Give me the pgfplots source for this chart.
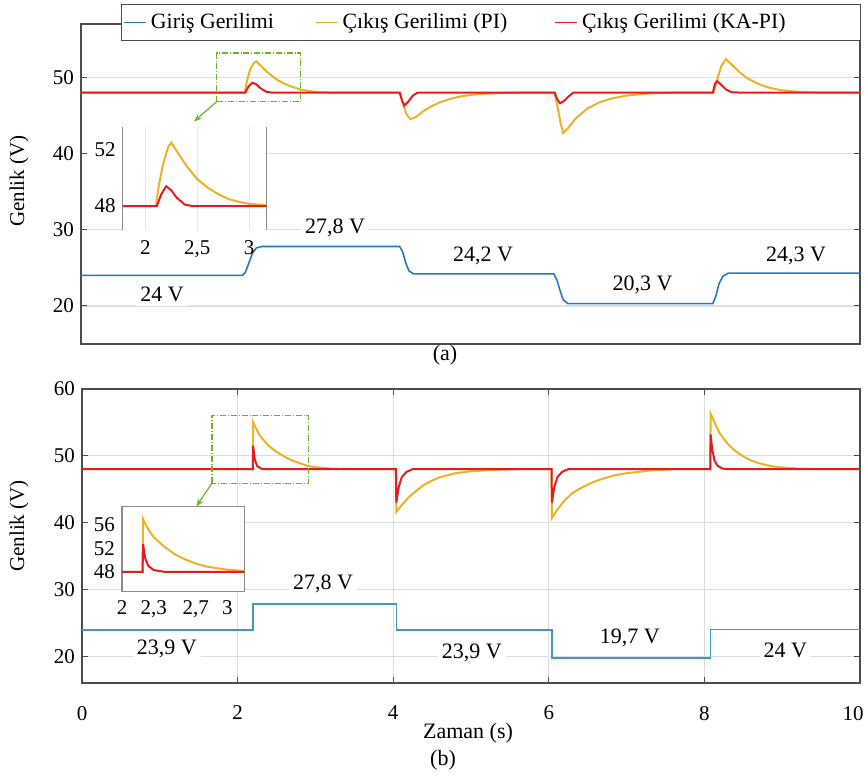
\documentclass[border=0pt]{standalone}
\usepackage{pgfplots}
\pgfplotsset{compat=1.18}
\usepackage{fontspec}
\setmainfont{Liberation Serif}
\usetikzlibrary{arrows.meta}
\definecolor{cblue}{RGB}{38,122,186}
\definecolor{cblueb}{RGB}{62,152,202}
\definecolor{cyel}{RGB}{236,178,40}
\definecolor{cred}{RGB}{228,28,30}
\definecolor{cgreen}{RGB}{110,180,40}
\newcommand{\fs}{\fontsize{10.5}{12.6}\selectfont}
\newcommand{\fl}{\fontsize{11}{13}\selectfont}
\newcommand{\fleg}{\fontsize{10.9}{13}\selectfont}
\pgfplotsset{
  base/.style={
    scale only axis,
    axis line style={draw=black!70, line width=0.6pt},
    tick style={draw=black!70, line width=0.5pt},
    major tick length=3pt,
    tick align=inside,
    grid style={draw=black!13, line width=0.6pt},
    tick label style={font=\fs},
    label style={font=\fs},
    /pgf/number format/assume math mode=true,
  },
  inset/.style={
    scale only axis,
    axis background/.style={fill=white},
    axis line style={draw=black!45, line width=0.6pt},
    major tick length=0pt,
    xmajorgrids, grid style={draw=black!10, line width=0.5pt},
    tick label style={font=\fs},
    /pgf/number format/assume math mode=true,
  },
}
\begin{document}
\begin{tikzpicture}
\useasboundingbox (0,0) rectangle (433.5pt,-388pt);
% ---------------- panel (a) ----------------
\begin{axis}[base,
  at={(40.5pt,-172pt)}, anchor=south west,
  width=389.5pt, height=160pt,
  xmin=0, xmax=10, ymin=15, ymax=57,
  xtick=\empty, ytick={20,30,40,50},
  ymajorgrids,
  ylabel={Genlik (V)},
  ylabel style={at={(axis description cs:-0.0796,0.509)}, anchor=center},
  legend columns=3,
  legend cell align=left,
  legend image code/.code={\draw[#1, line width=0.8pt] (0pt,0pt) -- (11pt,0pt);},
  legend style={at={(axis description cs:0.0513,1.062)}, anchor=north west,
    draw=black!70, fill=white, font=\fleg, inner xsep=1pt, inner ysep=2.5pt,
    /tikz/every even column/.append style={column sep=0pt}},
]
\addplot[cblue, line width=0.8pt] coordinates {
 (0,24) (2.07,24) (2.11,24.4) (2.15,25.5) (2.2,26.9) (2.25,27.6) (2.32,27.8)
 (4.09,27.8) (4.13,27.1) (4.17,25.6) (4.21,24.6) (4.27,24.2)
 (6.07,24.2) (6.11,23.4) (6.15,22.0) (6.19,20.8) (6.25,20.3)
 (8.11,20.3) (8.15,21.3) (8.19,22.9) (8.24,23.9) (8.31,24.3) (10,24.3)};
\addlegendentry{\makebox[80pt][l]{Giriş Gerilimi}}
\addplot[cyel, line width=1pt] coordinates {
 (0,48) (2.1,48) (2.13,49.5) (2.17,51) (2.22,51.9) (2.25,52.1) (2.3,51.6)
 (2.4,50.6) (2.5,49.8) (2.6,49.2) (2.7,48.8) (2.8,48.45) (2.9,48.25) (3.0,48.1) (3.2,48)
 (4.1,48) (4.13,46.6) (4.18,45.1) (4.23,44.5) (4.3,44.8) (4.4,45.6) (4.5,46.2)
 (4.6,46.7) (4.75,47.2) (4.9,47.55) (5.1,47.8) (5.4,47.95) (5.7,48)
 (6.08,48) (6.12,46) (6.16,43.8) (6.19,42.7) (6.25,43.3) (6.35,44.6) (6.5,45.9)
 (6.65,46.7) (6.8,47.2) (7.0,47.6) (7.3,47.9) (7.6,48)
 (8.12,48) (8.16,49.5) (8.22,51.5) (8.28,52.4) (8.35,51.7) (8.45,50.7) (8.55,49.9)
 (8.7,49.1) (8.85,48.6) (9.0,48.3) (9.2,48.1) (9.5,48) (10,48)};
\addlegendentry{\makebox[104pt][l]{Çıkış Gerilimi (PI)}}
\addplot[cred, line width=1pt] coordinates {
 (0,48) (2.11,48) (2.15,48.8) (2.2,49.3) (2.25,49.1) (2.3,48.6) (2.38,48.1) (2.45,48)
 (4.09,48) (4.12,47) (4.15,46.3) (4.2,46.8) (4.26,47.6) (4.32,48)
 (6.08,48) (6.11,47.2) (6.15,46.6) (6.2,46.9) (6.26,47.5) (6.32,48)
 (8.11,48) (8.14,49.2) (8.17,49.5) (8.22,49.0) (8.28,48.4) (8.35,48.05) (8.45,48) (10,48)};
\addlegendentry{\makebox[136pt][l]{Çıkış Gerilimi (KA-PI)}}
\fill[white] (axis cs:0.09,30.2) rectangle (axis cs:0.54,43.5);
\draw[cgreen, densely dashdotted, line width=0.6pt] (axis cs:1.74,46.8) rectangle (axis cs:2.82,53.2);
\draw[cgreen, line width=0.6pt, -{Stealth[length=4pt]}] (axis cs:1.74,46.8) -- (axis cs:1.45,44.2);
\node[fill=white, inner sep=2pt, font=\fl] at (axis cs:3.26,30.3) {27,8 V};
\node[fill=white, inner sep=2pt, font=\fl] at (axis cs:1.04,21.5) {24 V};
\node[fill=white, inner sep=2pt, font=\fl] at (axis cs:5.16,26.5) {24,2 V};
\node[fill=white, inner sep=2pt, font=\fl] at (axis cs:7.21,22.8) {20,3 V};
\node[fill=white, inner sep=2pt, font=\fl] at (axis cs:9.18,26.5) {24,3 V};
\end{axis}
% inset (a)
\begin{axis}[inset,
  at={(61.35pt,-115pt)}, anchor=south west,
  width=72pt, height=51.5pt,
  xmin=1.78, xmax=3.17, ymin=46.3, ymax=53.6,
  xtick={2,2.5,3}, xticklabels={2,{2,5},3},
  ytick={48,52},
  separate axis lines,
  x axis line style={draw=none},
  xticklabel style={yshift=-2pt},
]
\addplot[cyel, line width=1pt] coordinates {
 (1.7,48) (2.1,48) (2.13,49.5) (2.17,51) (2.22,52.2) (2.25,52.5) (2.3,51.9)
 (2.4,50.8) (2.5,49.9) (2.6,49.3) (2.7,48.85) (2.8,48.5) (2.9,48.3) (3.0,48.15) (3.2,48.05)};
\addplot[cred, line width=1pt] coordinates {
 (1.7,48) (2.11,48) (2.15,48.8) (2.2,49.4) (2.25,49.1) (2.3,48.6) (2.38,48.1) (2.45,48) (3.2,48)};
\end{axis}
% ---------------- panel (b) ----------------
\begin{axis}[base,
  at={(41pt,-341.5pt)}, anchor=south west,
  width=389pt, height=147pt,
  xmin=0, xmax=10, ymin=16, ymax=60,
  xtick={0,2,...,10}, xticklabels={0,2,4,6,8,{\hspace*{-7pt}10}},
  ytick={20,30,40,50,60},
  xmajorgrids, ymajorgrids,
  xticklabel style={yshift=-8pt},
  ylabel={Genlik (V)},
  ylabel style={at={(axis description cs:-0.081,0.534)}, anchor=center},
]
\addplot[cblueb, line width=0.8pt] coordinates {
 (0,23.9) (2.2,23.9) (2.2,27.8) (4.04,27.8) (4.04,23.9) (6.04,23.9) (6.04,19.7)
 (8.08,19.7) (8.08,24) (10,24)};
\addplot[cyel, line width=1pt] coordinates {
 (0,48) (2.195,48) (2.2,55) (2.25,53.8) (2.3,52.8) (2.4,51.5) (2.5,50.6) (2.6,49.9)
 (2.7,49.3) (2.8,48.9) (2.9,48.5) (3.0,48.3) (3.2,48.1) (3.5,48)
 (4.035,48) (4.04,41.6) (4.1,42.5) (4.2,43.8) (4.3,44.8) (4.4,45.7) (4.5,46.3)
 (4.6,46.8) (4.7,47.1) (4.8,47.4) (5.0,47.7) (5.3,47.9) (5.6,48)
 (6.035,48) (6.04,40.7) (6.1,41.8) (6.2,43.3) (6.3,44.4) (6.4,45.1) (6.5,45.7)
 (6.6,46.2) (6.7,46.6) (6.85,47.1) (7.0,47.4) (7.3,47.8) (7.6,48)
 (8.075,48) (8.08,56.3) (8.15,54.5) (8.2,53.3) (8.3,51.8) (8.4,50.7) (8.5,49.9)
 (8.6,49.3) (8.7,48.9) (8.8,48.6) (8.95,48.3) (9.2,48.1) (9.5,48) (10,48)};
\addplot[cred, line width=1pt] coordinates {
 (0,48) (2.195,48) (2.2,51.5) (2.22,49.5) (2.25,48.5) (2.3,48.1) (2.35,48)
 (4.035,48) (4.04,43) (4.07,45.3) (4.11,46.8) (4.17,47.6) (4.25,48)
 (6.035,48) (6.04,43) (6.07,45.3) (6.11,46.8) (6.17,47.6) (6.25,48)
 (8.075,48) (8.08,53.2) (8.1,51) (8.13,49.3) (8.17,48.5) (8.23,48.1) (8.3,48) (10,48)};
\fill[white] (axis cs:0.077,30.3) rectangle (axis cs:0.514,42.5);
\draw[cgreen, densely dashdotted, line width=0.6pt] (axis cs:1.67,45.9) rectangle (axis cs:2.91,56);
\draw[cgreen, line width=0.6pt, -{Stealth[length=4pt]}] (axis cs:1.67,45.9) -- (axis cs:1.47,42.4);
\node[fill=white, inner sep=2pt, font=\fl] at (axis cs:3.1,30.8) {27,8 V};
\node[fill=white, inner sep=2pt, font=\fl] at (axis cs:1.09,21.1) {23,9 V};
\node[fill=white, inner sep=2pt, font=\fl] at (axis cs:5.01,20.5) {23,9 V};
\node[fill=white, inner sep=2pt, font=\fl] at (axis cs:7.04,22.7) {19,7 V};
\node[fill=white, inner sep=2pt, font=\fl] at (axis cs:9.04,20.9) {24 V};
\end{axis}
% inset (b)
\begin{axis}[inset,
  at={(61pt,-295.85pt)}, anchor=south west,
  width=61.15pt, height=42.5pt,
  xmin=2, xmax=3.16, ymin=44.6, ymax=59.1,
  xtick={2,2.3,2.7,3}, xticklabels={2,{2,3},{2,7},3},
  ytick={48,52,56},
  xmajorgrids=false,
  xticklabel style={yshift=-1pt},
]
\addplot[cyel, line width=1pt] coordinates {
 (2,48) (2.195,48) (2.2,57) (2.25,55.2) (2.3,53.9) (2.4,52.3) (2.5,51.0) (2.6,50.1)
 (2.7,49.4) (2.8,48.9) (2.9,48.6) (3.0,48.35) (3.16,48.15)};
\addplot[cred, line width=1pt] coordinates {
 (2,48) (2.195,48) (2.2,52.7) (2.22,50.3) (2.25,49) (2.3,48.3) (2.4,48) (3.16,48)};
\end{axis}
\node[font=\fl] at (222.5pt,-177.5pt) {(a)};
\node[font=\fl] at (234pt,-366.5pt) {Zaman (s)};
\node[font=\fl] at (221.5pt,-380pt) {(b)};
\end{tikzpicture}
\end{document}
